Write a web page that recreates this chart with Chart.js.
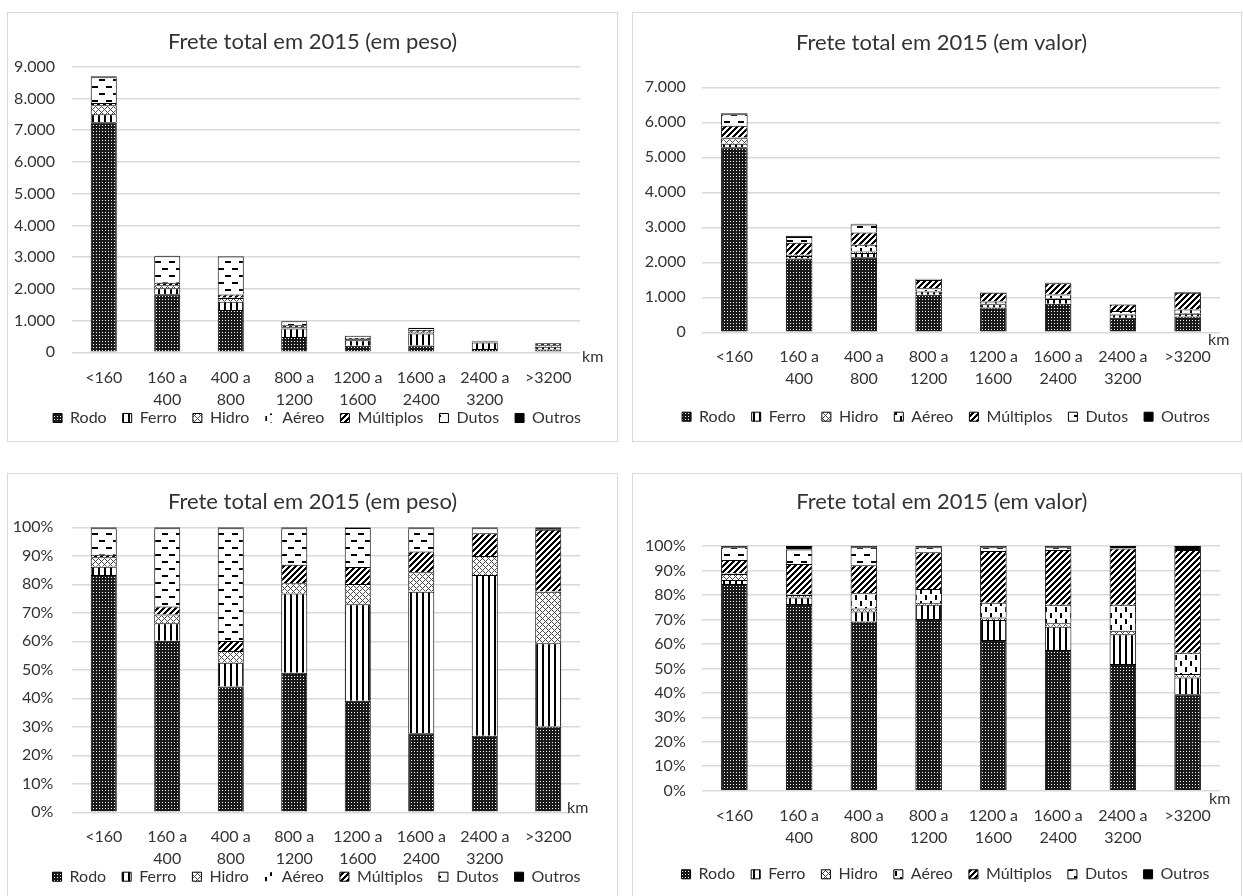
<!DOCTYPE html>
<html><head><meta charset="utf-8">
<script src="https://cdn.jsdelivr.net/npm/chart.js@4"></script>
<style>
html,body{margin:0;padding:0;background:#fff;}
body{width:1243px;height:896px;position:relative;overflow:hidden;}
.panel{position:absolute;border:1px solid #d9d9d9;box-sizing:border-box;background:#fff;}
.panel canvas{position:absolute;left:0;top:0;}
</style></head><body>
<div class="panel" style="left:7px;top:12px;width:611px;height:430px"><canvas id="c1" width="609" height="428"></canvas></div>
<div class="panel" style="left:632px;top:12px;width:610px;height:430px"><canvas id="c2" width="608" height="428"></canvas></div>
<div class="panel" style="left:7px;top:473px;width:611px;height:425px"><canvas id="c3" width="609" height="423"></canvas></div>
<div class="panel" style="left:632px;top:473px;width:610px;height:425px"><canvas id="c4" width="608" height="423"></canvas></div>
<script>
// ---------- data ----------
const categoryLabels = [['<160'], ['160 a', '400'], ['400 a', '800'], ['800 a', '1200'], ['1200 a', '1600'], ['1600 a', '2400'], ['2400 a', '3200'], ['>3200']];
const modes = ['Rodo', 'Ferro', 'Hidro', 'Aéreo', 'Múltiplos', 'Dutos', 'Outros'];
const titlePeso = 'Frete total em 2015 (em peso)';
const titleValor = 'Frete total em 2015 (em valor)';

// Frete total em peso
const pesoRodo      = [7247, 1830, 1336, 480, 203, 213, 101, 87];
const pesoFerro     = [252, 185, 255, 272, 176, 383, 211, 85];
const pesoHidro     = [287, 94, 124, 35, 37, 52, 25, 52];
const pesoAereo     = [2, 1, 1, 1, 0, 1, 0, 0];
const pesoMultiplos = [70, 85, 106, 63, 31, 56, 30, 63];
const pesoDutos     = [809, 833, 1197, 125, 71, 62, 6, 0];
const pesoOutros    = [35, 12, 12, 4, 2, 3, 2, 3];

// Frete total em valor
const valorRodo      = [5290, 2106, 2142, 1074, 708, 817, 414, 453];
const valorFerro     = [100, 75, 127, 89, 94, 135, 97, 79];
const valorHidro     = [157, 28, 40, 11, 12, 20, 12, 16];
const valorAereo     = [19, 8, 192, 87, 69, 108, 85, 100];
const valorMultiplos = [338, 339, 353, 230, 244, 318, 184, 483];
const valorDutos     = [326, 166, 229, 32, 17, 16, 1, 0];
const valorOutros    = [31, 39, 16, 8, 6, 7, 7, 18];

// Percent shares, peso (%)
const pesoPctRodo      = [83.3, 60.2, 44.1, 49.0, 39.1, 27.7, 26.9, 30.1];
const pesoPctFerro     = [2.9, 6.1, 8.4, 27.8, 33.9, 49.7, 56.4, 29.2];
const pesoPctHidro     = [3.3, 3.1, 4.1, 3.6, 7.1, 6.8, 6.6, 18.1];
const pesoPctAereo     = [0.05, 0.03, 0.03, 0.05, 0.03, 0.05, 0.05, 0.05];
const pesoPctMultiplos = [0.8, 2.8, 3.5, 6.4, 5.9, 7.3, 8.0, 21.7];
const pesoPctDutos     = [9.3, 27.4, 39.5, 12.8, 13.7, 8.1, 1.7, 0];
const pesoPctOutros    = [0.35, 0.4, 0.4, 0.35, 0.3, 0.35, 0.4, 0.9];

// Percent shares, valor (%)
const valorPctRodo      = [84.5, 76.3, 69.1, 70.2, 61.6, 57.5, 51.8, 39.4];
const valorPctFerro     = [1.6, 2.7, 4.1, 5.8, 8.2, 9.5, 12.1, 6.9];
const valorPctHidro     = [2.5, 1.0, 1.3, 0.7, 1.0, 1.4, 1.5, 1.4];
const valorPctAereo     = [0.3, 0.3, 6.2, 5.7, 6.0, 7.6, 10.6, 8.7];
const valorPctMultiplos = [5.4, 12.3, 11.4, 15.0, 21.2, 22.4, 23.0, 42.0];
const valorPctDutos     = [5.2, 6.0, 7.4, 2.1, 1.5, 1.1, 0.1, 0];
const valorPctOutros    = [0.5, 1.4, 0.5, 0.5, 0.5, 0.5, 0.9, 1.6];

// ---------- styling ----------
const textColor = '#333333';
Chart.defaults.font.family = 'Lato, "Open Sans", sans-serif';

function makePattern(ctx, w, h, draw) {
  const c = document.createElement('canvas');
  c.width = w; c.height = h;
  const x = c.getContext('2d');
  draw(x, w, h);
  return ctx.createPattern(c, 'repeat');
}
function makePatterns(ctx) {
  const rodo = makePattern(ctx, 3, 3, (x) => {
    x.fillStyle = '#1a1a1a'; x.fillRect(0, 0, 3, 3);
    x.fillStyle = '#ffffff'; x.fillRect(1, 1, 1, 1);
  });
  const ferro = makePattern(ctx, 6, 1, (x) => {
    x.fillStyle = '#fff'; x.fillRect(0, 0, 6, 1);
    x.fillStyle = '#000'; x.fillRect(0, 0, 2, 1);
  });
  const hidro = makePattern(ctx, 6, 6, (x) => {
    x.fillStyle = '#fff'; x.fillRect(0, 0, 6, 6);
    x.fillStyle = '#4a4a4a';
    for (let i = 0; i < 6; i++) for (let j = 0; j < 6; j++) {
      if ((i + j) % 6 === 0 || (i - j + 6) % 6 === 0) x.fillRect(i, j, 1, 1);
    }
  });
  const aereo = makePattern(ctx, 10, 12, (x) => {
    x.fillStyle = '#fff'; x.fillRect(0, 0, 10, 12);
    x.fillStyle = '#000'; x.fillRect(2, 1, 2, 5); x.fillRect(7, 7, 2, 5);
  });
  const mult = makePattern(ctx, 6, 6, (x) => {
    x.fillStyle = '#fff'; x.fillRect(0, 0, 6, 6);
    x.fillStyle = '#000';
    for (let i = 0; i < 6; i++) for (let j = 0; j < 6; j++) {
      if ((i + j) % 6 < 3) x.fillRect(i, j, 1, 1);
    }
  });
  const dutos = makePattern(ctx, 14, 14, (x) => {
    x.fillStyle = '#fff'; x.fillRect(0, 0, 14, 14);
    x.fillStyle = '#000'; x.fillRect(0, 3, 6, 2); x.fillRect(7, 10, 6, 2);
  });
  return [rodo, ferro, hidro, aereo, mult, dutos, '#000000'];
}

const fmtThousands = (v) => v >= 1000 ? Math.floor(v / 1000) + '.' + String(v % 1000).padStart(3, '0') : String(v);
const fmtPct = (v) => Math.round(v) + '%';

const posPlugin = {
  id: 'pos',
  afterLayout(chart, args, opts) {
    const t = chart.titleBlock;
    if (t && opts.titleX != null) { const dx = opts.titleX - (t.left + t.right) / 2; t.left += dx; t.right += dx; }
    const l = chart.legend;
    if (l && opts.legendX != null) { const dx = opts.legendX - (l.left + l.right) / 2; l.left += dx; l.right += dx; }
    // let two-line category labels extend below the (short) x-axis box
    if (chart.scales.x) chart.scales.x._computeLabelArea = function () { return undefined; };
  },
  afterDraw(chart, args, opts) {
    const ctx = chart.ctx, a = chart.chartArea;
    ctx.save();
    ctx.font = '16px Lato, "Open Sans", sans-serif';
    ctx.fillStyle = textColor; ctx.textAlign = 'left'; ctx.textBaseline = 'middle';
    ctx.fillText('km', a.right + opts.kmDx, a.bottom + opts.kmDy);
    ctx.restore();
  }
};

function makeChart(id, cfg) {
  const canvas = document.getElementById(id);
  const ctx = canvas.getContext('2d');
  const P = makePatterns(ctx);
  const datasets = modes.map((m, i) => ({
    label: m,
    data: cfg.series[i],
    backgroundColor: P[i],
    borderColor: '#000',
    borderWidth: (i === 3 && cfg.aereoNoBorder) ? 0 : 1,
    barPercentage: 0.41,
    categoryPercentage: 1
  }));
  return new Chart(ctx, {
    type: 'bar',
    data: { labels: categoryLabels, datasets },
    options: {
      responsive: false, animation: false, events: [],
      layout: { padding: { left: 0, top: 0, right: cfg.padR, bottom: cfg.padB } },
      plugins: {
        title: { display: true, text: cfg.title, color: textColor,
          font: { size: 22, weight: 'normal', lineHeight: 1.2 },
          padding: { top: cfg.tTop, bottom: cfg.tBot } },
        legend: { position: 'bottom',
          labels: { boxWidth: 9, boxHeight: 9, padding: 16, color: textColor, font: { size: 16 } } },
        tooltip: { enabled: false },
        pos: { titleX: cfg.titleX, legendX: cfg.legendX, kmDx: cfg.kmDx, kmDy: cfg.kmDy }
      },
      scales: {
        x: {
          stacked: true,
          grid: { display: false, drawTicks: false },
          border: { display: false },
          ticks: { color: textColor, font: { size: 16, lineHeight: '22px' }, padding: cfg.xPad, maxRotation: 0, autoSkip: false },
          afterFit: (s) => { s.height = cfg.xH; }
        },
        y: {
          stacked: true, min: 0, max: cfg.max,
          ticks: { stepSize: cfg.step, color: textColor, font: { size: 16 }, padding: cfg.yPad, callback: cfg.fmt },
          grid: { color: '#d9d9d9', lineWidth: 1.5, drawTicks: false },
          border: { display: false },
          afterFit: (s) => { s.width = cfg.yW; }
        }
      }
    },
    plugins: [posPlugin]
  });
}

makeChart('c1', {
  title: titlePeso, max: 9000, step: 1000, fmt: fmtThousands, aereoNoBorder: true,
  series: [pesoRodo, pesoFerro, pesoHidro, pesoAereo, pesoMultiplos, pesoDutos, pesoOutros],
  padR: 37, padB: 5, tTop: 15.8, tBot: 11.5, xH: 41.7, xPad: 14.7, yW: 64, yPad: 17,
  titleX: 304.5, legendX: 309, kmDx: 2, kmDy: 4.7
});
makeChart('c2', {
  title: titleValor, max: 7000, step: 1000, fmt: fmtThousands, aereoNoBorder: false,
  series: [valorRodo, valorFerro, valorHidro, valorAereo, valorMultiplos, valorDutos, valorOutros],
  padR: 21, padB: 6.3, tTop: 16.5, tBot: 31.4, xH: 60.4, xPad: 13.4, yW: 69, yPad: 16.3,
  titleX: 308.5, legendX: 313, kmDx: -12, kmDy: 7.7
});
makeChart('c3', {
  title: titlePeso, max: 100, step: 10, fmt: fmtPct, aereoNoBorder: true,
  series: [pesoPctRodo, pesoPctFerro, pesoPctHidro, pesoPctAereo, pesoPctMultiplos, pesoPctDutos, pesoPctOutros],
  padR: 37, padB: 2.3, tTop: 14.5, tBot: 12.4, xH: 40.4, xPad: 13.4, yW: 64, yPad: 18.7,
  titleX: 304.5, legendX: 308.5, kmDx: -13, kmDy: -4.6
});
makeChart('c4', {
  title: titleValor, max: 100, step: 10, fmt: fmtPct, aereoNoBorder: false,
  series: [valorPctRodo, valorPctFerro, valorPctHidro, valorPctAereo, valorPctMultiplos, valorPctDutos, valorPctOutros],
  padR: 21, padB: 4.7, tTop: 14.5, tBot: 31.1, xH: 59.6, xPad: 14, yW: 69, yPad: 16.3,
  titleX: 308.8, legendX: 312.5, kmDx: -11, kmDy: 8.3
});
</script>
</body></html>
